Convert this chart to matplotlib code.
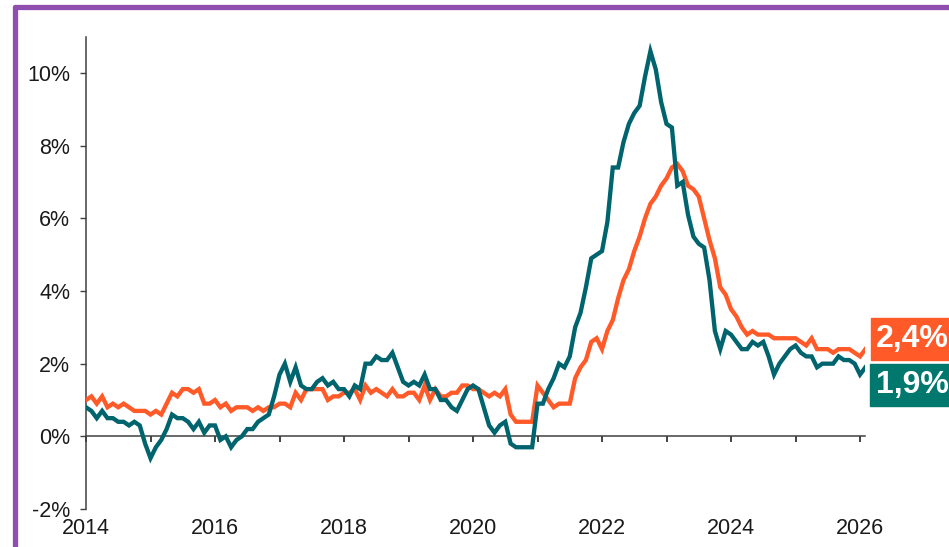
import matplotlib
matplotlib.use("Agg")
import matplotlib.pyplot as plt
from matplotlib.patches import Rectangle
from matplotlib.lines import Line2D

plt.rcParams["font.family"] = ["Liberation Sans", "DejaVu Sans"]

# monthly values, Jan 2014 .. Feb 2026 (% yoy)
start_year = 2014
headline = [
    0.8, 0.7, 0.5, 0.7, 0.5, 0.5, 0.4, 0.4, 0.3, 0.4, 0.3, -0.2,      # 2014
    -0.6, -0.3, -0.1, 0.2, 0.6, 0.5, 0.5, 0.4, 0.2, 0.4, 0.1, 0.3,    # 2015
    0.3, -0.1, 0.0, -0.3, -0.1, 0.0, 0.2, 0.2, 0.4, 0.5, 0.6, 1.1,    # 2016
    1.7, 2.0, 1.5, 1.9, 1.4, 1.3, 1.3, 1.5, 1.6, 1.4, 1.5, 1.3,       # 2017
    1.3, 1.1, 1.4, 1.3, 2.0, 2.0, 2.2, 2.1, 2.1, 2.3, 1.9, 1.5,       # 2018
    1.4, 1.5, 1.4, 1.7, 1.3, 1.3, 1.0, 1.0, 0.8, 0.7, 1.0, 1.3,       # 2019
    1.4, 1.3, 0.8, 0.3, 0.1, 0.3, 0.4, -0.2, -0.3, -0.3, -0.3, -0.3,  # 2020
    0.9, 0.9, 1.3, 1.6, 2.0, 1.9, 2.2, 3.0, 3.4, 4.1, 4.9, 5.0,       # 2021
    5.1, 5.9, 7.4, 7.4, 8.1, 8.6, 8.9, 9.1, 9.9, 10.6, 10.1, 9.2,     # 2022
    8.6, 8.5, 6.9, 7.0, 6.1, 5.5, 5.3, 5.2, 4.3, 2.9, 2.4, 2.9,       # 2023
    2.8, 2.6, 2.4, 2.4, 2.6, 2.5, 2.6, 2.2, 1.7, 2.0, 2.2, 2.4,       # 2024
    2.5, 2.3, 2.2, 2.2, 1.9, 2.0, 2.0, 2.0, 2.2, 2.1, 2.1, 2.0,       # 2025
    1.7, 1.9,                                                          # 2026
]
other = [
    1.0, 1.1, 0.9, 1.1, 0.8, 0.9, 0.8, 0.9, 0.8, 0.7, 0.7, 0.7,       # 2014
    0.6, 0.7, 0.6, 0.9, 1.2, 1.1, 1.3, 1.3, 1.2, 1.3, 0.9, 0.9,       # 2015
    1.0, 0.8, 0.9, 0.7, 0.8, 0.8, 0.8, 0.7, 0.8, 0.7, 0.8, 0.8,       # 2016
    0.9, 0.9, 0.8, 1.2, 1.0, 1.3, 1.3, 1.3, 1.3, 1.0, 1.1, 1.1,       # 2017
    1.2, 1.2, 1.3, 1.0, 1.4, 1.2, 1.3, 1.2, 1.1, 1.3, 1.1, 1.1,       # 2018
    1.2, 1.2, 1.0, 1.4, 1.0, 1.3, 1.1, 1.1, 1.2, 1.2, 1.4, 1.4,       # 2019
    1.3, 1.3, 1.2, 1.1, 1.2, 1.1, 1.3, 0.6, 0.4, 0.4, 0.4, 0.4,       # 2020
    1.4, 1.2, 1.0, 0.8, 0.9, 0.9, 0.9, 1.6, 1.9, 2.1, 2.6, 2.7,       # 2021
    2.4, 2.9, 3.2, 3.8, 4.3, 4.6, 5.1, 5.5, 6.0, 6.4, 6.6, 6.9,       # 2022
    7.1, 7.4, 7.5, 7.3, 6.9, 6.8, 6.6, 6.0, 5.4, 4.9, 4.1, 3.9,       # 2023
    3.5, 3.3, 3.0, 2.8, 2.9, 2.8, 2.8, 2.8, 2.7, 2.7, 2.7, 2.7,       # 2024
    2.7, 2.6, 2.5, 2.7, 2.4, 2.4, 2.4, 2.3, 2.4, 2.4, 2.4, 2.3,       # 2025
    2.2, 2.4,                                                          # 2026
]
year_ticks = list(range(2014, 2027))
label_years = list(range(2014, 2027, 2))
y_ticks = [-2, 0, 2, 4, 6, 8, 10]
headline_label = "1,9%"
other_label = "2,4%"

TEAL = "#00646E"
TEAL_BOX = "#00786D"
ORANGE = "#FF5A28"
PURPLE = "#8E4FB0"

dates = [start_year + i / 12 for i in range(len(headline))]

fig = plt.figure(figsize=(9.49, 5.47), dpi=100)
W, H = 949, 547
ax = fig.add_axes([86 / W, 38 / H, 779.4 / W, 472.3 / H])

ax.plot(dates, other, color=ORANGE, lw=3.1, solid_joinstyle="miter", zorder=3)
ax.plot(dates, headline, color=TEAL, lw=3.1, solid_joinstyle="miter", zorder=4)

ax.set_xlim(2014, 2014 + (len(headline) - 1) / 12)
ax.set_ylim(-2, 11)

# y axis
ax.set_yticks(y_ticks)
ax.set_yticklabels([f"{v}%" for v in y_ticks])
ax.tick_params(axis="y", direction="out", length=4.5, width=1, color="#404040",
               labelsize=15.5, pad=7, labelcolor="#1a1a1a")
ax.spines["left"].set_color("#404040")
ax.spines["left"].set_linewidth(1.1)
ax.spines["top"].set_visible(False)
ax.spines["right"].set_visible(False)

# zero line with yearly ticks
ax.spines["bottom"].set_position(("data", 0))
ax.spines["bottom"].set_color("#404040")
ax.spines["bottom"].set_linewidth(1.1)
ax.set_xticks(year_ticks)
ax.tick_params(axis="x", direction="out", length=4.5, width=1.2, color="#222222",
               labelbottom=False)

# year labels at the bottom
sec = ax.secondary_xaxis(0)
sec.set_xticks(label_years)
sec.set_xticklabels([str(y) for y in label_years])
sec.spines["bottom"].set_visible(False)
sec.tick_params(axis="x", length=0, labelsize=15.5, pad=6.5, labelcolor="#1a1a1a")

# end labels
fig.patches.append(Rectangle((871 / W, 187 / H), 80 / W, 42 / H,
                             transform=fig.transFigure, color=ORANGE, zorder=5))
fig.patches.append(Rectangle((870 / W, 141 / H), 81 / W, 42.5 / H,
                             transform=fig.transFigure, color=TEAL_BOX, zorder=5))
fig.text(876 / W, 208 / H, other_label, color="white", fontsize=23,
         fontweight="bold", va="center", ha="left", zorder=6)
fig.text(876 / W, 162.5 / H, headline_label, color="white", fontsize=23,
         fontweight="bold", va="center", ha="left", zorder=6)

# purple frame
fig.add_artist(Line2D([15.5 / W, 15.5 / W], [-0.01, 1 - 6.5 / H], color=PURPLE,
                      lw=3.8, transform=fig.transFigure, solid_capstyle="round"))
fig.add_artist(Line2D([15.5 / W, 1.01], [1 - 6.5 / H, 1 - 6.5 / H], color=PURPLE,
                      lw=3.8, transform=fig.transFigure, solid_capstyle="round"))

fig.savefig("out.png", dpi=100)
